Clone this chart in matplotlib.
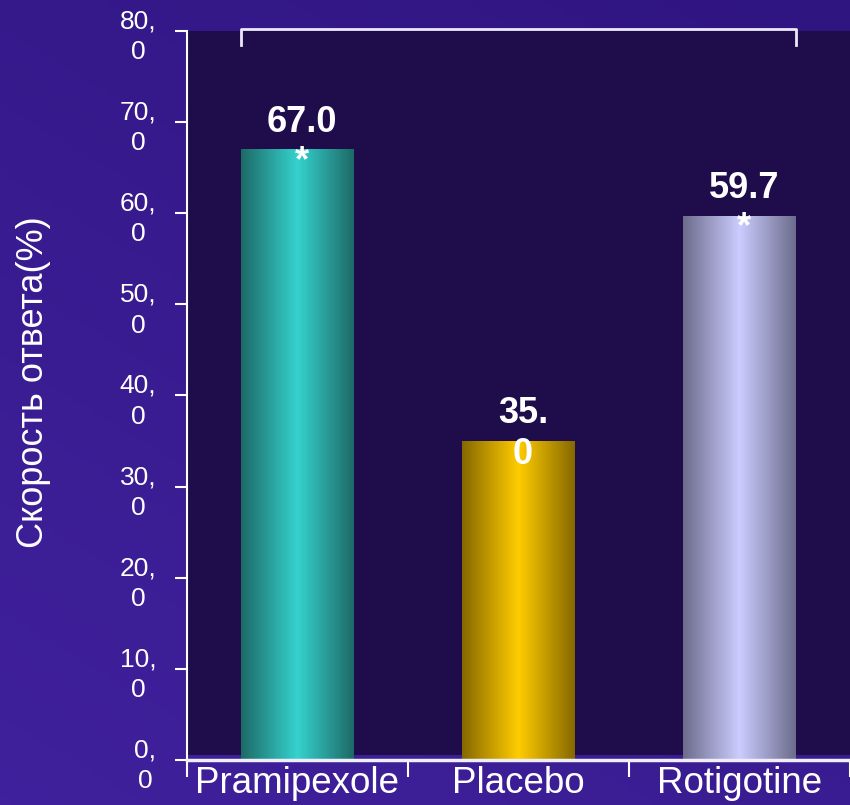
import numpy as np
import matplotlib
matplotlib.use("Agg")
import matplotlib.pyplot as plt
from matplotlib.colors import LinearSegmentedColormap, to_rgb
from matplotlib.patches import Rectangle

plt.rcParams['font.family'] = ['Liberation Sans', 'DejaVu Sans']

# --- data ---
categories = ['Pramipexole', 'Placebo', 'Rotigotine']
response_rate = [67.0, 35.0, 59.7]
significant = [True, False, True]
y_ticks = [0, 10, 20, 30, 40, 50, 60, 70, 80]
y_label = 'Скорость ответа(%)'

# bar shading: edge colour -> centre colour -> edge colour
bar_edge = ['#1d6a66', '#866800', '#6c6c8c']
bar_centre = ['#35d2ce', '#ffcc00', '#ccccff']

fig = plt.figure(figsize=(8.5, 8.05), dpi=100)

# purple slide background
bg = fig.add_axes([0, 0, 1, 1])
bg.axis('off')
yy, xx = np.mgrid[0:1:200j, 0:1:200j]
c_top = np.array(to_rgb('#2f1580'))
c_mid = np.array(to_rgb('#4222a0'))
t = np.clip(0.55 * yy + 0.35 * (1 - xx), 0, 1)[..., None]
bg_img = c_top * (1 - t) + c_mid * t
bg.imshow(bg_img, extent=[0, 1, 0, 1], aspect='auto', origin='upper')

ax = fig.add_axes([0.22, 0.0559, 0.78, 0.9056])
ax.set_facecolor('none')
x = np.arange(len(categories))
w = 0.51

# dark plot area
ax.add_patch(Rectangle((-0.5, 0.55), 3.0, 79.7, color='#1e0c4b', zorder=0, lw=0))

bars = ax.bar(x, response_rate, width=w, color='none', zorder=2)
grad = np.linspace(0, 1, 256)[None, :]
for b, v, e, c in zip(bars, response_rate, bar_edge, bar_centre):
    cm = LinearSegmentedColormap.from_list('shade', [e, c, e])
    im = ax.imshow(grad, cmap=cm, aspect='auto', zorder=2,
                   extent=[b.get_x(), b.get_x() + b.get_width(), 0, v])
    im.set_clip_path(b)

# value labels and significance marks
for xi, v, sig in zip(x, response_rate, significant):
    txt = f'{v:.1f}'
    if not sig:
        txt = txt.replace('.', '.\n')
    ax.text(xi + 0.02, v + 4.9, txt, ha='center', va='top', color='white',
            fontsize=26, fontweight='bold', linespacing=1.2, zorder=4)
    if sig:
        ax.text(xi + 0.02, v + 0.6, '*', ha='center', va='top', color='white',
                fontsize=26, fontweight='bold', zorder=4)

# bracket over the compared groups
bx0 = x[0] - w / 2
bx1 = x[-1] + w / 2
ax.plot([bx0, bx0, bx1, bx1], [78.5, 80.2, 80.2, 78.5], color='#ece8f6',
        lw=2, clip_on=False, zorder=4)

ax.set_xlim(-0.5, 2.5)
ax.set_ylim(0, 80)

ax.set_yticks(y_ticks)
ax.set_yticklabels([f'{v:.1f}'.replace('.', ',\n') for v in y_ticks],
                   fontsize=19, color='white', multialignment='center',
                   linespacing=1.35)
ax.tick_params(axis='y', direction='out', length=9, width=1.5,
               color='white', pad=13)

ax.set_xticks([-0.5, 0.5, 1.5, 2.5])
ax.set_xticklabels([])
ax.set_xticks(x, minor=True)
ax.set_xticklabels(categories, minor=True, fontsize=26.5, color='white')
ax.tick_params(axis='x', which='major', direction='out', length=12,
               width=1.5, color='white')
ax.tick_params(axis='x', which='minor', length=0, pad=4)

for s in ['top', 'right']:
    ax.spines[s].set_visible(False)
ax.spines['left'].set_color('white')
ax.spines['left'].set_linewidth(1.5)
ax.spines['bottom'].set_color('#f0eef8')
ax.spines['bottom'].set_linewidth(2.5)

ax.set_ylabel(y_label, fontsize=26, color='white')
ax.yaxis.set_label_coords(-0.205, 0.518)

fig.savefig('out.png', dpi=100)
